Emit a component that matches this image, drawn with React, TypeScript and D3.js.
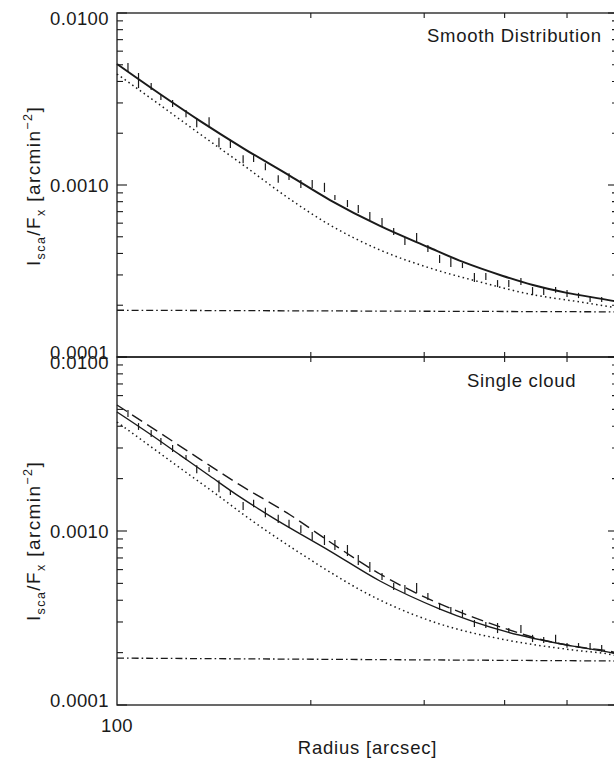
import React from 'react';
import * as d3 from 'd3';

// x axis: radius in arcsec (log), y axis: I_sca/F_x (log)
const radiusTicks = [200, 300, 400, 500];
const yTickValues = [1e-4, 1e-3, 1e-2];
const yTickLabels = ['0.0001', '0.0010', '0.0100'];

// radii of the measured profile bins (both panels)
const barRadius = [104, 108, 113, 117, 122, 128, 133, 139, 144, 150, 157, 163, 170, 178, 185, 193, 201, 210, 218, 228, 237,
  247, 258, 269, 280, 292, 304, 317, 330, 344, 359, 374, 390, 406, 424, 442, 460, 480, 500, 521, 543, 566];

// top panel: smooth distribution
const smoothBarHi = [5.12e-3, 4.48e-3, 3.92e-3, 3.34e-3, 3.12e-3, 2.73e-3, 2.45e-3, 2.48e-3, 1.88e-3, 1.83e-3, 1.49e-3,
  1.49e-3, 1.34e-3, 1.14e-3, 1.17e-3, 1.07e-3, 1.07e-3, 1.03e-3, 8.75e-4, 8.18e-4, 7.65e-4, 6.97e-4, 6.43e-4, 5.62e-4,
  4.98e-4, 5.26e-4, 4.48e-4, 3.92e-4, 3.76e-4, 3.52e-4, 3.08e-4, 3.08e-4, 2.8e-4, 2.8e-4, 2.88e-4, 2.55e-4, 2.52e-4,
  2.55e-4, 2.45e-4, 2.36e-4, 2.26e-4, 2.23e-4];
const smoothBarLo = [4.54e-3, 3.66e-3, 3.57e-3, 3.12e-3, 2.84e-3, 2.48e-3, 2.17e-3, 2.17e-3, 1.66e-3, 1.64e-3, 1.34e-3,
  1.36e-3, 1.22e-3, 1.03e-3, 1.07e-3, 9.6e-4, 9.6e-4, 9.1e-4, 8.18e-4, 7.45e-4, 6.87e-4, 6.26e-4, 5.7e-4, 5.12e-4,
  4.48e-4, 4.66e-4, 4.08e-4, 3.52e-4, 3.34e-4, 3.29e-4, 2.73e-4, 2.8e-4, 2.55e-4, 2.55e-4, 2.62e-4, 2.29e-4, 2.29e-4,
  2.36e-4, 2.23e-4, 2.2e-4, 2.09e-4, 2.09e-4];
const smoothFitR = [100, 116.6, 134.5, 156.9, 185.6, 214.2, 256.1, 304, 344.6, 397.6, 442.6, 499.7, 589.2, 600];
const smoothFit = [5.05e-3, 3.38e-3, 2.36e-3, 1.64e-3, 1.13e-3, 8.18e-4, 5.78e-4, 4.36e-4, 3.57e-4, 2.96e-4, 2.62e-4,
  2.36e-4, 2.12e-4, 2.09e-4];
const smoothSingleR = [100, 116.6, 134.5, 156.9, 183.6, 214.2, 256.1, 306.2, 366.2, 437.8, 523.5, 589.2, 600];
const smoothSingle = [4.42e-3, 2.92e-3, 1.98e-3, 1.31e-3, 8.51e-4, 5.85e-4, 4.19e-4, 3.29e-4, 2.73e-4, 2.32e-4,
  2.09e-4, 1.95e-4, 1.93e-4];
const smoothBackR = [100, 600];
const smoothBack = [1.87e-4, 1.83e-4];

// bottom panel: single cloud
const cloudBarHi = [4.96e-3, 4.17e-3, 3.81e-3, 3.42e-3, 3.12e-3, 2.73e-3, 2.39e-3, 2.33e-3, 1.96e-3, 1.72e-3, 1.47e-3,
  1.51e-3, 1.36e-3, 1.24e-3, 1.16e-3, 1.08e-3, 9.87e-4, 9.48e-4, 8.88e-4, 8.31e-4, 7.28e-4, 6.64e-4, 5.74e-4, 5.02e-4,
  4.89e-4, 5.02e-4, 4.4e-4, 3.86e-4, 3.66e-4, 3.52e-4, 3.08e-4, 3.0e-4, 2.96e-4, 2.77e-4, 2.88e-4, 2.53e-4, 2.46e-4,
  2.53e-4, 2.27e-4, 2.27e-4, 2.27e-4, 2.21e-4];
const cloudBarLo = [4.52e-3, 3.81e-3, 3.47e-3, 3.12e-3, 2.84e-3, 2.56e-3, 2.15e-3, 2.18e-3, 1.67e-3, 1.61e-3, 1.32e-3,
  1.37e-3, 1.2e-3, 1.11e-3, 1.04e-3, 9.74e-4, 8.88e-4, 8.31e-4, 7.78e-4, 7.18e-4, 6.38e-4, 5.81e-4, 5.23e-4, 4.58e-4,
  4.4e-4, 4.4e-4, 4.01e-4, 3.52e-4, 3.38e-4, 3.2e-4, 2.81e-4, 2.77e-4, 2.59e-4, 2.59e-4, 2.59e-4, 2.3e-4, 2.27e-4,
  2.27e-4, 2.13e-4, 2.13e-4, 2.07e-4, 2.02e-4];
const cloudFitR = [100, 112.5, 125.3, 139.4, 155.2, 174.7, 214.2, 256.1, 317.4, 403.3, 510.7, 589.2, 600];
const cloudFit = [4.83e-3, 3.61e-3, 2.73e-3, 2.07e-3, 1.57e-3, 1.19e-3, 7.67e-4, 5.16e-4, 3.56e-4, 2.63e-4, 2.18e-4,
  1.99e-4, 1.96e-4];
const cloudDashR = [100, 116.6, 134.5, 155.2, 185.6, 214.2, 256.1, 317.4, 357.1, 403.3, 453.9, 510.7, 589.2, 600];
const cloudDash = [5.3e-3, 3.66e-3, 2.59e-3, 1.84e-3, 1.24e-3, 8.65e-4, 5.66e-4, 3.81e-4, 3.2e-4, 2.73e-4, 2.39e-4,
  2.18e-4, 2.02e-4, 1.99e-4];
const cloudSingleR = [100, 112.5, 128.5, 144.5, 156.9, 192.4, 256.1, 317.4, 403.3, 510.7, 589.2, 600];
const cloudSingle = [4.23e-3, 3.08e-3, 2.15e-3, 1.57e-3, 1.25e-3, 7.47e-4, 4.01e-4, 2.92e-4, 2.36e-4, 2.07e-4,
  1.94e-4, 1.91e-4];
const cloudBackR = [100, 600];
const cloudBack = [1.86e-4, 1.79e-4];

const INK = '#1a1a1a';
const FONT = 'Liberation Sans, Arial, sans-serif';
const LEFT = 117;
const RIGHT = 618;

const x = d3.scaleLog().domain([100, 600]).range([LEFT, RIGHT]);

type Curve = { r: number[]; v: number[]; dash?: string; width: number };

const Panel = ({ top, bottom, curves, hi, lo, name, nameX, nameY, titleY }: {
  top: number; bottom: number; curves: Curve[]; hi: number[]; lo: number[];
  name: string; nameX: number; nameY: number; titleY: number;
}) => {
  const y = d3.scaleLog().domain([1e-4, 1e-2]).range([bottom, top]);
  const ticks = y.ticks();
  const isMajor = (v: number) => Math.abs(Math.log10(v) - Math.round(Math.log10(v))) < 1e-6;

  return (
    <g>
      {/* frame */}
      <rect x={LEFT} y={top} width={RIGHT - LEFT} height={bottom - top} fill="none" stroke={INK} strokeWidth={1.3} />
      {ticks.map((t, i) => {
        const len = isMajor(t) ? 10 : 6;
        return (
          <g key={i} stroke={INK} strokeWidth={1.1}>
            <line x1={LEFT} x2={LEFT + len} y1={y(t)} y2={y(t)} />
            <line x1={RIGHT} x2={RIGHT - len} y1={y(t)} y2={y(t)} />
          </g>
        );
      })}
      {radiusTicks.map((r) => (
        <g key={r} stroke={INK} strokeWidth={1.1}>
          <line x1={x(r)} x2={x(r)} y1={top} y2={top + 5} />
          <line x1={x(r)} x2={x(r)} y1={bottom} y2={bottom - 5} />
        </g>
      ))}
      {yTickValues.map((v, i) => {
        // edge labels sit a little inside the panel, as in the original plot
        const off = v === 1e-2 ? 5 : v === 1e-4 ? -5 : 0;
        return (
          <text key={i} x={109} y={y(v) + off + 6.6} textAnchor="end" fontSize={18.5} fontFamily={FONT}
            fill={INK} letterSpacing={0.4}>{yTickLabels[i]}</text>
        );
      })}

      {/* model curves */}
      {curves.map((c, i) => {
        const pts = c.r.map((r, j) => [x(r), y(c.v[j])] as [number, number]);
        const path = d3.line().curve(d3.curveMonotoneX)(pts) || '';
        return (
          <path key={i} d={path} fill="none" stroke={INK} strokeWidth={c.width}
            strokeDasharray={c.dash} />
        );
      })}

      {/* measured profile */}
      {barRadius.map((r, i) => (
        <line key={i} x1={x(r)} x2={x(r)} y1={y(lo[i])} y2={y(hi[i])} stroke={INK} strokeWidth={1.2} />
      ))}

      <text x={nameX} y={nameY} fontSize={18.5} fontFamily={FONT} fill={INK} letterSpacing={0.7}>{name}</text>

      <text transform={`translate(40,${titleY}) rotate(-90)`} textAnchor="middle" fontSize={19}
        fontFamily={FONT} fill={INK} letterSpacing={1.4}>
        I<tspan fontSize={12.5} dy={5}>sca</tspan><tspan dy={-5}>/F</tspan><tspan fontSize={12.5} dy={5}>x</tspan>
        <tspan dy={-5}> [arcmin</tspan><tspan fontSize={12.5} dy={-8}>−2</tspan><tspan dy={8}>]</tspan>
      </text>
    </g>
  );
};

export default function App() {
  const smoothCurves: Curve[] = [
    { r: smoothBackR, v: smoothBack, dash: '7 3 1.6 3', width: 1.3 },
    { r: smoothSingleR, v: smoothSingle, dash: '1.5 3.2', width: 1.5 },
    { r: smoothFitR, v: smoothFit, width: 2 },
  ];
  const cloudCurves: Curve[] = [
    { r: cloudBackR, v: cloudBack, dash: '7 3 1.6 3', width: 1.3 },
    { r: cloudSingleR, v: cloudSingle, dash: '1.5 3.2', width: 1.5 },
    { r: cloudFitR, v: cloudFit, width: 1.4 },
    { r: cloudDashR, v: cloudDash, dash: '12 6', width: 1.4 },
  ];

  return (
    <svg width={614} height={764} style={{ position: 'absolute', left: 0, top: 0, background: '#fff' }}>
      <rect width={614} height={764} fill="#fff" />
      <Panel top={13} bottom={357} curves={smoothCurves} hi={smoothBarHi} lo={smoothBarLo}
        name="Smooth Distribution" nameX={427} nameY={42} titleY={186} />
      <Panel top={357} bottom={705} curves={cloudCurves} hi={cloudBarHi} lo={cloudBarLo}
        name="Single cloud" nameX={467} nameY={387} titleY={541} />
      <text x={x(100)} y={732} textAnchor="middle" fontSize={18.5} fontFamily={FONT} fill={INK}
        letterSpacing={0.4}>100</text>
      <text x={(LEFT + RIGHT) / 2} y={754} textAnchor="middle" fontSize={18.5} fontFamily={FONT} fill={INK}
        letterSpacing={0.8}>Radius [arcsec]</text>
    </svg>
  );
}
